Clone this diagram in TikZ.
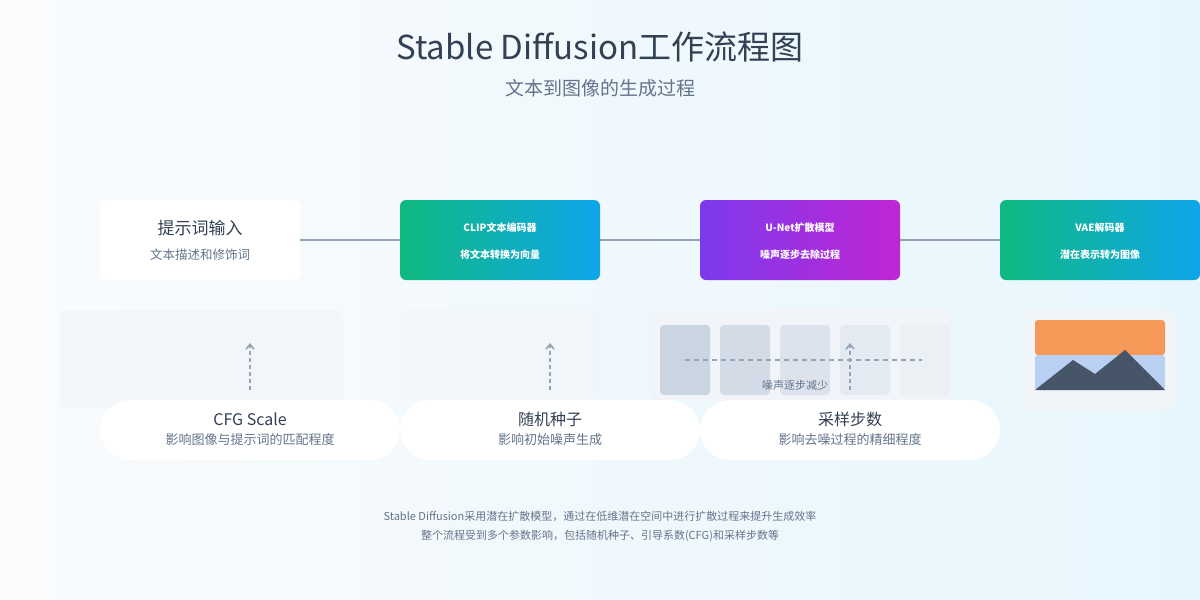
\documentclass[tikz,border=0pt]{standalone}
\usepackage{fontspec}
\setmainfont{Noto Sans CJK SC}
\usetikzlibrary{positioning,arrows.meta}
\definecolor{cgreen}{RGB}{16,185,129}
\definecolor{cblue}{RGB}{14,165,233}
\definecolor{cpurple}{RGB}{124,58,237}
\definecolor{cpink}{RGB}{192,38,211}
\definecolor{cdark}{RGB}{51,65,85}
\definecolor{cgray}{RGB}{100,116,139}
\definecolor{cline}{RGB}{148,163,184}
\definecolor{cpanel}{RGB}{241,245,249}
\definecolor{cnoise}{RGB}{203,213,225}
\definecolor{corange}{RGB}{246,153,88}
\definecolor{csky}{RGB}{186,208,242}
\definecolor{cmount}{RGB}{71,85,105}
\begin{document}
\begin{tikzpicture}[x=1pt,y=-1pt,
      stage/.style={rounded corners=6pt, minimum width=200pt, minimum height=80pt, inner sep=0pt},
      ttl/.style={font=\fontsize{17}{19}\selectfont},
      sub/.style={font=\fontsize{12.5}{14}\selectfont},
      param/.style={fill=white, rounded corners=30pt, minimum width=300pt, minimum height=60pt, inner sep=0pt},
      panel/.style={fill=cpanel, rounded corners=6pt},
      >={Straight Barb[length=5pt,width=8pt]},
      dasharrow/.style={->, cline, line width=1.5pt, dash pattern=on 4pt off 3pt}
    ]
    \shade[left color=white!60!cpanel, right color=cblue!10] (0,0) rectangle (1200,600);
    \useasboundingbox (0,0) rectangle (1200,600);
    \node[text=cdark, font=\fontsize{33}{36}\selectfont] (title) at (600,47) {Stable Diffusion工作流程图};
    \node[text=cgray, font=\fontsize{19}{22}\selectfont] (subtitle) at (600,88) {文本到图像的生成过程};
    % background panels
    \fill[panel, opacity=.7] (60,310) rectangle (343,408);
    \fill[panel, opacity=.7] (400,310) rectangle (600,400);
    \fill[panel] (650,310) rectangle (950,400);
    \fill[panel] (1025,310) rectangle (1175,410);
    % noise steps
    \foreach \i/\s in {0/100,1/80,2/55,3/35,4/15}
      \fill[cnoise!\s!cpanel, rounded corners=4pt] (660+60*\i,325) rectangle ++(50,70);
    \coordinate (nl) at (685,360);
    \coordinate (nr) at (922,360);
    \draw[cline, line width=1.5pt, dash pattern=on 5pt off 4pt] (nl) -- (nr);
    \node[text=cgray, font=\fontsize{11}{12}\selectfont] (noiselbl) at (795,385) {噪声逐步减少};
    % image icon
    \fill[corange, rounded corners=3pt] (1035,320) rectangle (1165,355);
    \fill[csky, rounded corners=3pt] (1035,355) rectangle (1165,390);
    \fill[cmount] (1035,390) -- (1073,360) -- (1095,374) -- (1125,350) -- (1165,390) -- cycle;
    % stages
    \draw[cline, line width=1.5pt] (300,240) -- (1000,240);
    \node[stage, fill=white] (prompt) at (200,240) {};
    \shade[left color=cgreen, right color=cblue, rounded corners=6pt] (400,200) rectangle (600,280);
    \node[stage] (clip) at (500,240) {};
    \shade[left color=cpurple, right color=cpink, rounded corners=6pt] (700,200) rectangle (900,280);
    \node[stage] (unet) at (800,240) {};
    \shade[left color=cgreen, right color=cblue, rounded corners=6pt] (1000,200) rectangle (1200,280);
    \node[stage] (vae) at (1100,240) {};
    \node[ttl, text=cdark] at (200,228) {提示词输入};
    \node[sub, text=cgray] at (200,255) {文本描述和修饰词};
    \node[ttl, text=white, font=\bfseries] at (500,228) {CLIP文本编码器};
    \node[sub, text=white, font=\bfseries] at (500,255) {将文本转换为向量};
    \node[ttl, text=white, font=\bfseries] at (800,228) {U-Net扩散模型};
    \node[sub, text=white, font=\bfseries] at (800,255) {噪声逐步去除过程};
    \node[ttl, text=white, font=\bfseries] at (1100,228) {VAE解码器};
    \node[sub, text=white, font=\bfseries] at (1100,255) {潜在表示转为图像};
    % parameters
    \foreach \n/\x/\t/\d in {cfg/250/CFG Scale/影响图像与提示词的匹配程度,
                              seed/550/随机种子/影响初始噪声生成,
                              steps/850/采样步数/影响去噪过程的精细程度} {
      \node[param] (\n) at (\x,430) {};
      \node[text=cdark, font=\fontsize{16}{18}\selectfont] at (\x,419) {\t};
      \node[text=cgray, font=\fontsize{13}{15}\selectfont] at (\x,440) {\d};
      \coordinate (\n-top) at (\x,390);
      \coordinate (\n-tip) at (\x,343);
      \draw[dasharrow] (\n-top) -- (\n-tip);
    }
    % footer
    \node[text=cgray, font=\fontsize{11}{13}\selectfont] (note1) at (600,516) {Stable Diffusion采用潜在扩散模型，通过在低维潜在空间中进行扩散过程来提升生成效率};
    \node[text=cgray, font=\fontsize{11}{13}\selectfont] (note2) at (600,536) {整个流程受到多个参数影响，包括随机种子、引导系数(CFG)和采样步数等};
  \end{tikzpicture}
\end{document}
